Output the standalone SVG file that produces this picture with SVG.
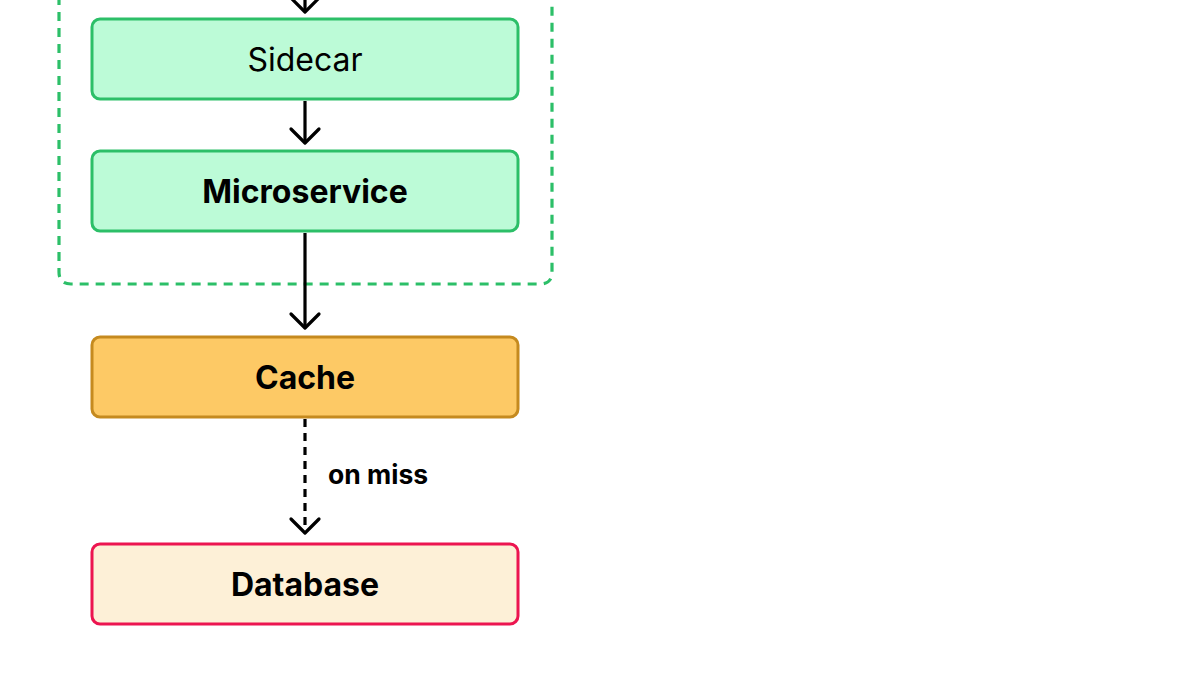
<svg xmlns="http://www.w3.org/2000/svg" width="1200" height="675" viewBox="0 0 1200 675">
<style>
.box{stroke-width:3}
.green{fill:#bcfbd7;stroke:#2cbf68}
.lbl{font-family:Inter,"Liberation Sans",sans-serif;font-size:32px;fill:#000;text-anchor:middle}
.b{font-weight:700}
.conn{stroke:#000;stroke-width:3.2;fill:none}
.head{stroke:#000;stroke-width:3.2;fill:none;stroke-linecap:round;stroke-linejoin:round}
</style>
<rect width="1200" height="675" fill="#fff"/>
<g id="group-boundary">
<path d="M59 -20 V272 Q59 284 71 284 H540 Q552 284 552 272 V-20" fill="none" stroke="#2cbf68" stroke-width="3.2" stroke-dasharray="9 7"/>
</g>
<g id="connectors">
<line class="conn" x1="305" y1="-5" x2="305" y2="11"/>
<polyline class="head" points="291,-2 305,12 319,-2"/>
<line class="conn" x1="305" y1="101" x2="305" y2="143"/>
<polyline class="head" points="291,129 305,143 319,129"/>
<line class="conn" x1="305" y1="233" x2="305" y2="328"/>
<polyline class="head" points="291,314 305,328 319,314"/>
<line class="conn" x1="305" y1="419" x2="305" y2="532" stroke-dasharray="8 6"/>
<polyline class="head" points="291,519 305,533 319,519"/>
<text x="328" y="484" font-family="Inter,'Liberation Sans',sans-serif" font-size="26.5" font-weight="700" fill="#000">on miss</text>
</g>
<g id="sidecar">
<rect class="box green" x="92" y="19" width="426" height="80" rx="8"/>
<text class="lbl" x="305" y="71">Sidecar</text>
</g>
<g id="microservice">
<rect class="box green" x="92" y="151" width="426" height="80" rx="8"/>
<text class="lbl b" x="305" y="203">Microservice</text>
</g>
<g id="cache">
<rect class="box" x="92" y="337" width="426" height="80" rx="8" fill="#fdc965" stroke="#c58a1f"/>
<text class="lbl b" x="305" y="389">Cache</text>
</g>
<g id="database">
<rect class="box" x="92" y="544" width="426" height="80" rx="8" fill="#fdf0d7" stroke="#ec1550"/>
<text class="lbl b" x="305" y="596">Database</text>
</g>
</svg>
